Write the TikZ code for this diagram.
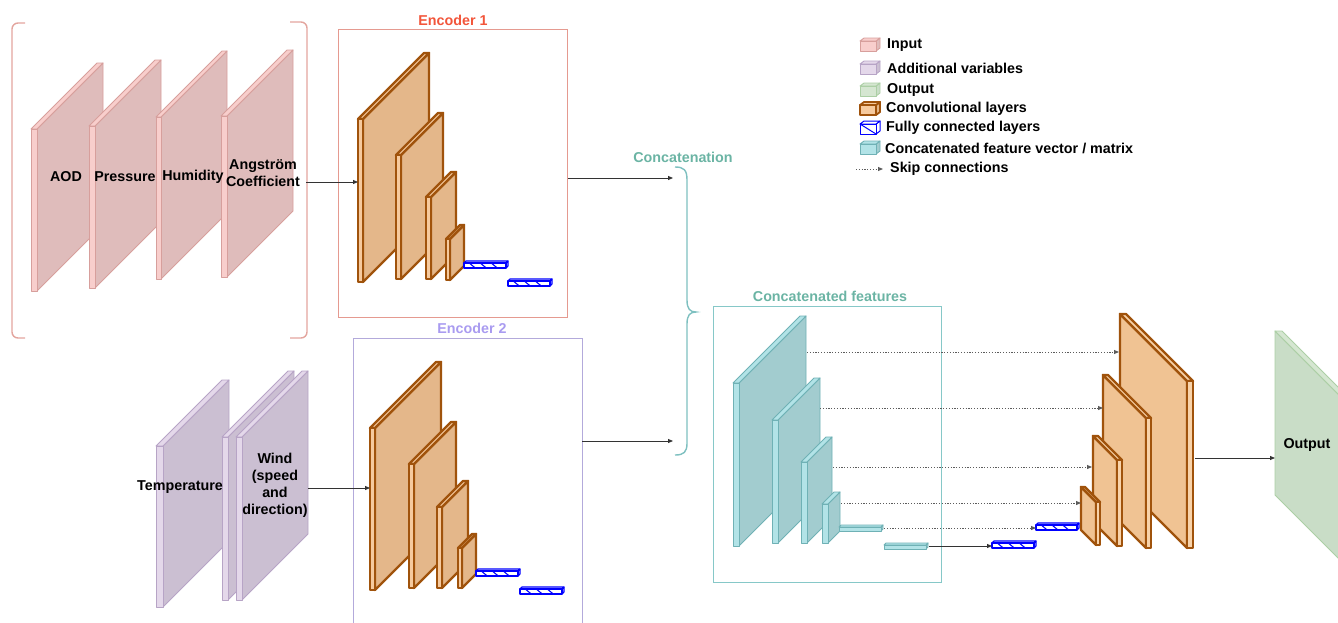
\documentclass[tikz,border=0pt]{standalone}
\usepackage{fontspec}
\setmainfont{Liberation Sans}
\usetikzlibrary{arrows.meta}
\definecolor{pinkS}{HTML}{DFBCBB}
\definecolor{pinkF}{HTML}{F8CECC}
\definecolor{pinkD}{HTML}{D79F9C}
\definecolor{avS}{HTML}{CBBFD2}
\definecolor{avF}{HTML}{E4D8EA}
\definecolor{avD}{HTML}{B7A4C6}
\definecolor{encS}{HTML}{E4B78A}
\definecolor{encF}{HTML}{F6CA9E}
\definecolor{encD}{HTML}{A0530C}
\definecolor{decS}{HTML}{F0C393}
\definecolor{decF}{HTML}{F8D3AA}
\definecolor{ccS}{HTML}{A2CCCF}
\definecolor{ccF}{HTML}{B2E3E7}
\definecolor{ccD}{HTML}{6FB1B5}
\definecolor{outS}{HTML}{C9DDC7}
\definecolor{outF}{HTML}{D5E6D1}
\definecolor{outD}{HTML}{ACCFA5}
\definecolor{encAT}{HTML}{F2553A}
\definecolor{encAB}{HTML}{E59A90}
\definecolor{encBT}{HTML}{A99BF0}
\definecolor{encBB}{HTML}{B3AADB}
\definecolor{ccT}{HTML}{6BB4A4}
\definecolor{ccB}{HTML}{86C8C8}
\definecolor{brC}{HTML}{7EC0C0}
\definecolor{bkC}{HTML}{E3A59E}
\definecolor{lnC}{HTML}{333333}

\tikzset{
  every node/.style={font=\bfseries\fontsize{14.3}{17}\selectfont, inner sep=0pt},
  in-side/.style={fill=pinkS, draw=pinkD, line width=0.9pt, line join=round},
  in-top/.style={fill=pinkF, draw=pinkD, line width=0.9pt, line join=round},
  in-front/.style={fill=pinkF, draw=pinkD, line width=0.9pt, line join=round},
  av-side/.style={fill=avS, draw=avD, line width=0.9pt, line join=round},
  av-top/.style={fill=avF, draw=avD, line width=0.9pt, line join=round},
  av-front/.style={fill=avF, draw=avD, line width=0.9pt, line join=round},
  enc-side/.style={fill=encS, draw=encD, line width=2.4pt, line join=round},
  enc-top/.style={fill=encF, draw=encD, line width=2.4pt, line join=round},
  enc-front/.style={fill=encF, draw=encD, line width=2.4pt, line join=round},
  dec-side/.style={fill=decS, draw=encD, line width=2.4pt, line join=round},
  dec-top/.style={fill=decF, draw=encD, line width=2.4pt, line join=round},
  dec-front/.style={fill=decF, draw=encD, line width=2.4pt, line join=round},
  cc-side/.style={fill=ccS, draw=ccD, line width=0.9pt, line join=round},
  cc-top/.style={fill=ccF, draw=ccD, line width=0.9pt, line join=round},
  cc-front/.style={fill=ccF, draw=ccD, line width=0.9pt, line join=round},
  out-side/.style={fill=outS, draw=outD, line width=0.9pt, line join=round},
  out-top/.style={fill=outF, draw=outD, line width=0.9pt, line join=round},
  out-front/.style={fill=outF, draw=outD, line width=0.9pt, line join=round},
  fcl-side/.style={fill=white, draw=blue, line width=1pt, line join=round},
  fcl-top/.style={fill=white, draw=blue, line width=1pt, line join=round},
  fcl-front/.style={fill=white, draw=blue, line width=1pt, line join=round},
  fc/.style={fill=white, draw=blue, line width=1.1pt, line join=round},
  conn/.style={draw=lnC, line width=0.8pt, -{Triangle[length=5pt,width=4pt]}},
  skipc/.style={draw=lnC!80, line width=0.9pt, dash pattern=on 1.2pt off 1.6pt, -{Triangle[length=5pt,width=4pt]}},
  title/.style={font=\bfseries\fontsize{14.3}{17}\selectfont},
  legtext/.style={anchor=west},
}

\newcommand\cubR[6]{%
  \filldraw[#1-side] (#2+#4,#3) -- ++(#6,-#6) -- ++(0,#5) -- ++(-#6,#6) -- cycle;
  \filldraw[#1-top] (#2,#3) -- ++(#6,-#6) -- ++(#4,0) -- ++(-#6,#6) -- cycle;
  \filldraw[#1-front] (#2,#3) rectangle ++(#4,#5);
}
\newcommand\cubL[6]{%
  \filldraw[#1-side] (#2,#3) -- ++(-#6,-#6) -- ++(0,#5) -- ++(#6,#6) -- cycle;
  \filldraw[#1-top] (#2,#3) -- ++(-#6,-#6) -- ++(#4,0) -- ++(#6,#6) -- cycle;
  \filldraw[#1-front] (#2,#3) rectangle ++(#4,#5);
}
\newcommand\fcbar[3]{%
  \filldraw[fc] (#1+#3-2,#2+2) -- ++(2,-2) -- ++(0,5) -- ++(-2,2) -- cycle;
  \filldraw[fc] (#1,#2+2) -- ++(2,-2) -- ++(#3-2,0) -- ++(-2,2) -- cycle;
  \filldraw[fc] (#1,#2+2) rectangle ++(#3-2,5);
  \foreach \k in {0.12,0.37,0.62} \draw[fc] (#1+\k*#3,#2+2) -- ++(6,5);
}
\newcommand\ccbar[3]{%
  \filldraw[cc-side] (#1+#3-2,#2+2) -- ++(2,-2) -- ++(0,4) -- ++(-2,2) -- cycle;
  \filldraw[cc-top] (#1,#2+2) -- ++(2,-2) -- ++(#3-2,0) -- ++(-2,2) -- cycle;
  \filldraw[cc-front] (#1,#2+2) rectangle ++(#3-2,4);
}
\newcommand\licon[3][]{%
  \filldraw[#3-side,#1] (876,#2-4) -- ++(4,-3) -- ++(0,10) -- ++(-4,3) -- cycle;
  \filldraw[#3-top,#1] (860,#2-4) -- ++(4,-3) -- ++(16,0) -- ++(-4,3) -- cycle;
  \filldraw[#3-front,#1] (860,#2-4) rectangle ++(16,10);
}

\begin{document}
\begin{tikzpicture}[x=1pt,y=-1pt]
\useasboundingbox (0,0) rectangle (1338,622);
\begin{scope}
\clip (0,0) rectangle (1338,622);

% ---------- input group ----------
\draw[bkC, line width=1.4pt, rounded corners=6pt] (25,23) -- (12,23) -- (12,338) -- (25,338);
\draw[bkC, line width=1.4pt, rounded corners=6pt] (290,22) -- (307,22) -- (307,338) -- (290,338);
\cubR{in}{31}{129}{6}{162}{66}
\cubR{in}{89}{126}{6}{162}{66}
\cubR{in}{156}{117}{5}{162}{66}
\cubR{in}{221}{116}{6}{161}{66}
\node (laod) at (66,177) {AOD};
\node (lpres) at (125,177) {Pressure};
\node (lhum) at (193,177) {Humidity};
\node[align=center] (lang) at (263,173) {Angström\\Coefficient};

% ---------- additional variables ----------
\cubR{av}{156}{446}{7}{161}{66}
\cubR{av}{222}{437}{6}{163}{66}
\cubR{av}{236}{437}{6}{163}{66}
\node (ltemp) at (180,487) {Temperature};
\node[align=center] (lwind) at (275,485) {Wind\\(speed\\and\\direction)};

% ---------- encoder 1 ----------
\draw[encAB, line width=1pt] (338,29) rectangle (567,317);
\node[title, text=encAT] (t1) at (453,20) {Encoder 1};
\cubR{enc}{358}{119}{5}{163}{66}
\cubR{enc}{396}{155}{5}{124}{42}
\cubR{enc}{426}{197}{5}{82}{25}
\cubR{enc}{446}{239}{4}{41}{14}
\fcbar{464}{261}{44}
\fcbar{508}{279}{44}

% ---------- encoder 2 ----------
\draw[encBB, line width=1pt] (353,640) -- (353,338) -- (582,338) -- (582,640);
\node[title, text=encBT] (t2) at (472,328) {Encoder 2};
\cubR{enc}{370}{428}{5}{162}{66}
\cubR{enc}{409}{464}{5}{124}{42}
\cubR{enc}{437}{507}{5}{81}{26}
\cubR{enc}{458}{548}{4}{40}{14}
\fcbar{476}{569}{44}
\fcbar{520}{587}{44}

% ---------- concatenation ----------
\node[title, text=ccT] (tcat) at (683,157) {Concatenation};
\draw[brC, line width=1.4pt] (675,167) .. controls (684,167) and (687,170) .. (687,180) -- (687,300) .. controls (687,309) and (690,312) .. (696,312) .. controls (690,312) and (687,315) .. (687,324) -- (687,443) .. controls (687,452) and (684,455) .. (675,455);

\draw[ccB, line width=1pt] (713,306) rectangle (941,582);
\node[title, text=ccT] (tcf) at (830,296) {Concatenated features};
\cubR{cc}{733}{383}{6}{163}{67}
\cubR{cc}{772}{420}{6}{123}{42}
\cubR{cc}{801}{462}{6}{81}{25}
\cubR{cc}{822}{504}{6}{39}{12}
\ccbar{839}{525}{44}
\ccbar{884}{543}{44}

% ---------- decoder ----------
\cubL{dec}{1187}{381}{6}{167}{67}
\cubL{dec}{1146}{418}{5}{130}{43}
\cubL{dec}{1117}{460}{5}{86}{24}
\cubL{dec}{1096}{502}{4}{43}{15}
\fcbar{1036}{523}{43}
\fcbar{992}{541}{44}

% ---------- output ----------
\cubL{out}{1343}{399}{7}{164}{68}
\node (lout) at (1307,445) {Output};

% ---------- connectors ----------
\coordinate (angR) at (306,182);  \coordinate (e1in) at (358,182);
\coordinate (windR) at (308,488); \coordinate (e2in) at (370,488);
\coordinate (e1out) at (568,178); \coordinate (cc1) at (673,178);
\coordinate (e2out) at (582,441); \coordinate (cc2) at (673,441);
\coordinate (s1a) at (807,352); \coordinate (s1b) at (1119,352);
\coordinate (s2a) at (820,408); \coordinate (s2b) at (1103,408);
\coordinate (s3a) at (833,467); \coordinate (s3b) at (1092,467);
\coordinate (s4a) at (841,503); \coordinate (s4b) at (1081,503);
\coordinate (s5a) at (884,528); \coordinate (s5b) at (1036,528);
\coordinate (s6a) at (929,546); \coordinate (s6b) at (992,546);
\coordinate (d1out) at (1195,458); \coordinate (outin) at (1275,458);
\draw[conn] (angR) -- (e1in);
\draw[conn] (windR) -- (e2in);
\draw[conn] (e1out) -- (cc1);
\draw[conn] (e2out) -- (cc2);
\draw[skipc] (s1a) -- (s1b);
\draw[skipc] (s2a) -- (s2b);
\draw[skipc] (s3a) -- (s3b);
\draw[skipc] (s4a) -- (s4b);
\draw[skipc] (s5a) -- (s5b);
\draw[conn] (s6a) -- (s6b);
\draw[conn] (d1out) -- (outin);

% ---------- legend ----------
\licon{45}{in}
\licon{68}{av}
\licon{90}{out}
\licon[line width=1.8pt]{109}{enc}
\licon{128}{fcl}
\draw[fc, line width=1pt] (860,124) -- (876,134);
\licon{148}{cc}
\coordinate (lsk1) at (856,169); \coordinate (lsk2) at (883,169);
\draw[skipc] (lsk1) -- (lsk2);
\node[legtext] (g1) at (887,45) {Input};
\node[legtext] (g2) at (887,68) {Additional variables};
\node[legtext] (g3) at (887,90) {Output};
\node[legtext] (g4) at (886,109) {Convolutional layers};
\node[legtext] (g5) at (886,128) {Fully connected layers};
\node[legtext] (g6) at (885,148) {Concatenated feature vector / matrix};
\node[legtext] (g7) at (890,169) {Skip connections};
\end{scope}
\end{tikzpicture}
\end{document}
